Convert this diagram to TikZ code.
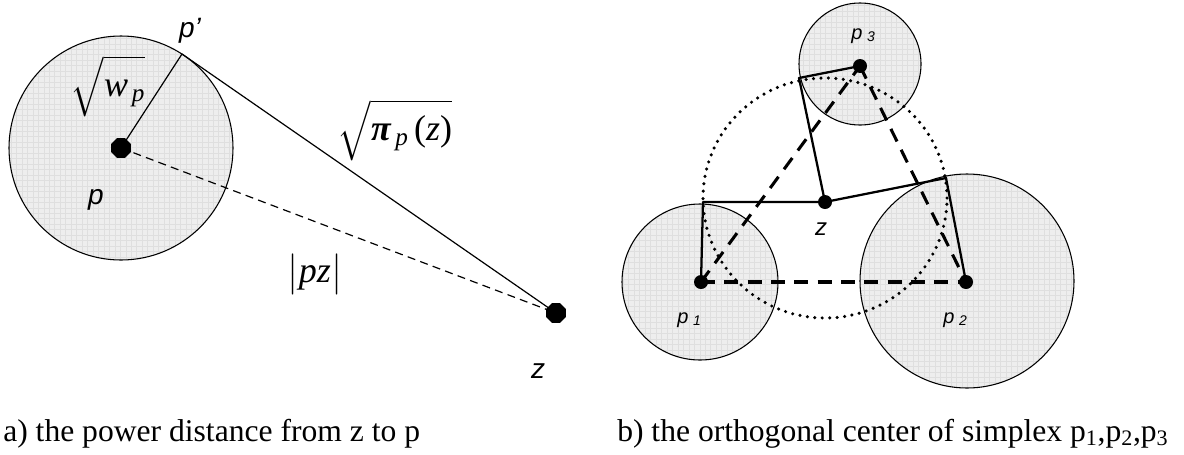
\documentclass[tikz,border=0pt]{standalone}
\usepackage{amsmath}
\usepackage{fontspec}
\setmainfont{Liberation Serif}
\setsansfont{Liberation Sans}
\usetikzlibrary{shapes.geometric}
\definecolor{discfill}{HTML}{EEEEEE}
\definecolor{discgrid}{HTML}{DFDFDF}
\newcommand\myGridDisc[3]{% center, radius(pt), grid box corners
  \begin{scope}
    \clip #1 circle[radius=#2];
    \fill[discfill] #1 circle[radius=#2];
    \draw[discgrid, line width=0.3pt, step=4.1pt] #3;
  \end{scope}
  \draw[discline] #1 circle[radius=#2];}
\begin{document}
\begin{tikzpicture}[x=0.75pt,y=-0.75pt,
  discline/.style={draw=black, line width=0.8pt},
  thinline/.style={draw=black, line width=0.9pt},
  thindash/.style={draw=black, line width=0.9pt, dash pattern=on 6pt off 4pt},
  thickline/.style={draw=black, line width=1.7pt, line join=round},
  thickdash/.style={draw=black, line width=2.3pt, dash pattern=on 10.5pt off 7pt},
  dotcircle/.style={draw=black, line width=2.6pt, line cap=round, dash pattern=on 0pt off 5.6pt},
  octdot/.style={regular polygon, regular polygon sides=8, fill=black, draw=none, minimum size=16pt, inner sep=0pt},
  rounddot/.style={circle, fill=black, draw=none, minimum size=10.5pt, inner sep=0pt},
  sanslab/.style={inner sep=0pt, font=\fontsize{21pt}{25pt}\selectfont\sffamily\itshape},
  smallsans/.style={inner sep=0pt, font=\fontsize{18pt}{21pt}\selectfont\sffamily\itshape},
  mathlab/.style={inner sep=0pt, font=\fontsize{27pt}{31pt}\selectfont},
  caption/.style={inner sep=0pt, font=\fontsize{23.7pt}{28pt}\selectfont},
  plabel/.style={inner sep=0pt, anchor=base west, font=\fontsize{15pt}{18pt}\selectfont\sffamily\itshape}
]
\useasboundingbox (0,0) rectangle (1184,454);

% ---------- a) ----------
\coordinate (P) at (121,148);
\coordinate (Pp) at (182,54);
\coordinate (Z) at (556,313);
\myGridDisc{(P)}{84pt}{(0,30) grid (240,270)}
\draw[thindash] (P) -- (Z);
\draw[thinline] (P) -- (Pp) -- (Z);
\node[octdot] (Pdot) at (P) {};
\node[octdot] (Zdot) at (Z) {};

\node[sanslab, anchor=base] (lpp) at (190,37) {p'};
\node[sanslab, anchor=base] (lp) at (96,204) {p};
\node[sanslab, anchor=base] (lz) at (538,378) {z};
\node[mathlab] (lw) at (108,86) {$\sqrt{\vphantom{\bigl|}\textit{w}_{\,\textit{p}}}$};
\node[mathlab] (lpi) at (395,130) {$\sqrt{\vphantom{\bigl|}\textbf{\textit{π}}_{\,\textit{p}}\,\textup{(}\textit{z}\textup{)}}$};
\node[mathlab] (lpz) at (315,274) {$\bigl|\textit{pz}\bigr|$};

% ---------- b) ----------
\coordinate (P1) at (701,282);
\coordinate (P2) at (966,282);
\coordinate (P3) at (860,66);
\coordinate (Zr) at (825,202);
\coordinate (F1) at (703,202);
\coordinate (F2) at (946,178);
\coordinate (F3) at (799,78);

\myGridDisc{(700,282)}{58.5pt}{(600,190) grid (800,380)}
\myGridDisc{(967,281)}{80.25pt}{(850,160) grid (1090,400)}
\myGridDisc{(860,64)}{45.75pt}{(790,0) grid (930,130)}

\draw[dotcircle] (825,198) ellipse[x radius=91.5pt, y radius=90pt];

\draw[thickdash] (P1) -- (P2);
\draw[thickdash] (P1) -- (P3);
\draw[thickdash] (P3) -- (P2);

\draw[thickline] (P1) -- (F1) -- (Zr) -- (F2) -- (P2);
\draw[thickline] (Zr) -- (F3) -- (P3);

\node[rounddot] (P1dot) at (P1) {};
\node[rounddot] (P2dot) at (P2) {};
\node[rounddot] (P3dot) at (P3) {};
\node[rounddot] (Zrdot) at (Zr) {};

\node[smallsans, anchor=base] (lzr) at (821,235) {z};
\node[plabel] (lp1) at (677,323) {p\kern3.5pt\raisebox{-2.2pt}{\fontsize{10.5pt}{12pt}\selectfont 1}};
\node[plabel] (lp2) at (943,323) {p\kern3.5pt\raisebox{-2.2pt}{\fontsize{10.5pt}{12pt}\selectfont 2}};
\node[plabel] (lp3) at (851,39) {p\kern3.5pt\raisebox{-2.2pt}{\fontsize{10.5pt}{12pt}\selectfont 3}};

% ---------- captions ----------
\node[caption, anchor=base west] (capa) at (3,441) {a) the power distance from z to p};
\node[caption, anchor=base west] (capb) at (617,441) {b) the orthogonal center of simplex p\textsubscript{1},p\textsubscript{2},p\textsubscript{3}};
\end{tikzpicture}
\end{document}
